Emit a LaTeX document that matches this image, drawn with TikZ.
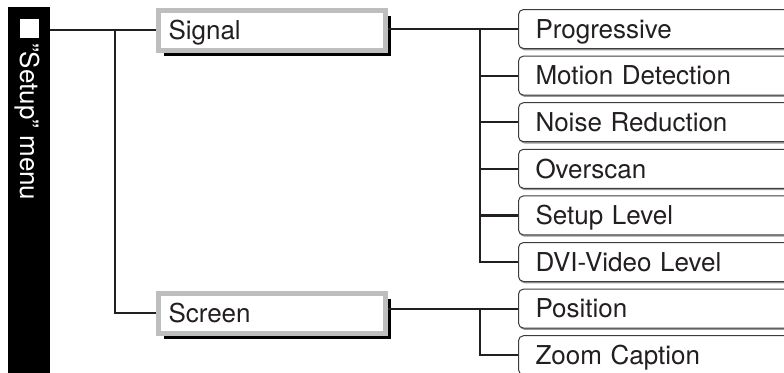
\documentclass[tikz,border=0pt]{standalone}
\usepackage{fontspec}
\setmainfont{TeX Gyre Heros}
\usetikzlibrary{shadows}
\definecolor{boxgray}{HTML}{BCBEC0}
\definecolor{linedark}{HTML}{231F20}
\definecolor{subedge}{HTML}{3C3C3C}
\definecolor{subshadow}{HTML}{9A9A9A}

\begin{document}
\begin{tikzpicture}[x=1pt,y=-1pt,
        font=\fontsize{26}{30}\selectfont,
        link/.style={draw=linedark, line width=2.2pt},
        menubox/.style={draw=boxgray, line width=5pt, fill=white,
            minimum width=227pt, minimum height=40pt, text width=207pt,
            inner xsep=10pt, align=left, text height=18.7pt, text depth=0pt,
            text=linedark,
            drop shadow={shadow xshift=5.5pt, shadow yshift=-5.5pt, fill=black, opacity=1}},
        subbox/.style={draw=subedge, line width=1pt, fill=white, rounded corners=5pt,
            minimum height=39pt, text width=250pt, inner xsep=17pt, align=left,
            text height=18.7pt, text depth=0pt, text=linedark,
            drop shadow={shadow xshift=1pt, shadow yshift=-1.8pt, fill=subshadow, opacity=1}}]
        \useasboundingbox (0,0) rectangle (784,372);

        % side bar
        \node[fill=black, anchor=north west, minimum width=42pt, minimum height=372pt,
            inner sep=0pt, outer sep=0pt] (menubar) at (8,7) {};
        \node[fill=white, minimum size=19pt, inner sep=0pt] (menusq) at (29.5,28.5) {};
        \node[rotate=-90, anchor=base west, text=white, inner sep=0pt] (menulabel) at (20,43) {"Setup" menu};

        % first level
        \node[menubox, anchor=west] (Signal) at (156,30) {Signal};
        \node[menubox, anchor=west] (Screen) at (156,313) {Screen};

        % second level
        \foreach \n/\t [count=\i from 0] in {prog/Progressive, motion/Motion Detection,
                noise/Noise Reduction, overscan/Overscan, setuplevel/Setup Level,
                dvi/DVI-Video Level, pos/Position, zoom/Zoom Caption} {
            \node[subbox, anchor=west] (\n) at (518,29+46.6*\i) {\t};
        }

        % connectors
        \coordinate (trunk) at (115,0);
        \coordinate (sigbus) at (480,0);
        \draw[link] (menubar.east |- Signal.west) -- (Signal.west);
        \draw[link] (trunk |- Signal.west) |- (Screen.west);
        \draw[link] (Signal.east |- prog.west) -- (prog.west);
        \foreach \n in {motion,noise,overscan,setuplevel,dvi} {
            \draw[link] (sigbus |- prog.west) |- (\n.west);
        }
        \draw[link] (Screen.east |- pos.west) -- (pos.west);
        \draw[link] (sigbus |- pos.west) |- (zoom.west);
    \end{tikzpicture}
\end{document}
